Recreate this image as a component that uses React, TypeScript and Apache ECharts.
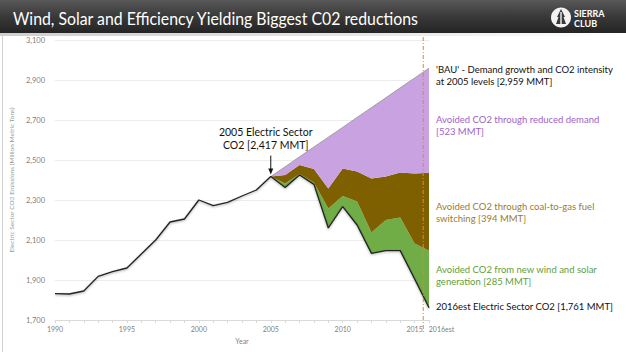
import React, { useEffect, useRef } from 'react';
import * as echarts from 'echarts';

const years = ['1990','1991','1992','1993','1994','1995','1996','1997','1998','1999','2000','2001','2002','2003','2004','2005','2006','2007','2008','2009','2010','2011','2012','2013','2014','2015','2016est'];
const emissions = [1832,1830,1845,1918,1942,1960,2030,2100,2190,2205,2300,2272,2288,2320,2350,2417,2362,2425,2378,2160,2267,2175,2033,2047,2047,1905,1761];
// 2005 .. 2016est
const bau = [2417,2466,2516,2565,2614,2663,2713,2762,2811,2861,2910,2959];
const demandBottom = [2417,2425,2475,2455,2358,2458,2442,2408,2417,2437,2433,2436];
const fuelSwitchBottom = [2417,2383,2430,2387,2258,2320,2292,2137,2200,2212,2083,2046];

const titleText = 'Wind, Solar and Efficiency Yielding Biggest C02 reductions';
const yAxisName = 'Electric Sector CO2 Emissions (Million Metric Tons)';
const notes = [
  { lines: ["'BAU' - Demand growth and CO2 intensity", 'at 2005 levels [2,959 MMT]'], color: '#111111' },
  { lines: ['Avoided CO2 through reduced demand', '[523 MMT]'], color: '#A062C8' },
  { lines: ['Avoided CO2 through coal-to-gas fuel', 'switching [394 MMT]'], color: '#9C7B2C' },
  { lines: ['Avoided CO2 from new wind and solar', 'generation [285 MMT]'], color: '#5F9E3B' },
  { lines: ['2016est Electric Sector CO2 [1,761 MMT]'], color: '#111111' },
];
const noteY = [69, 119, 206, 269, 306];
const startNote = ['2005 Electric Sector', 'CO2 [2,417 MMT]'];

const FONT = "Lato, 'Open Sans', sans-serif";

export default function App() {
  const ref = useRef<HTMLDivElement>(null);
  useEffect(() => {
    document.body.style.margin = '0';
    const chart = echarts.init(ref.current!, null, { renderer: 'svg' });
    const pad = new Array(years.length - bau.length).fill(null);
    const base = pad.concat(emissions.slice(years.length - bau.length));
    const green = pad.concat(fuelSwitchBottom.map((v, i) => v - emissions[years.length - bau.length + i]));
    const brown = pad.concat(demandBottom.map((v, i) => v - fuelSwitchBottom[i]));
    const purple = pad.concat(bau.map((v, i) => v - demandBottom[i]));

    chart.setOption({
      animation: false,
      backgroundColor: '#ffffff',
      textStyle: { fontFamily: FONT },
      grid: { left: 47, right: 197, top: 40, bottom: 38 },
      xAxis: {
        type: 'category',
        data: years,
        boundaryGap: false,
        name: 'Year',
        nameLocation: 'middle',
        nameGap: 17,
        nameTextStyle: { fontSize: 7, color: '#7f7f7f' },
        axisLine: { lineStyle: { color: '#d9d9d9' } },
        axisTick: { interval: 0, length: 3, lineStyle: { color: '#d9d9d9' } },
        axisLabel: {
          interval: 0,
          fontSize: 7,
          color: '#7f7f7f',
          margin: 5,
          formatter: (v: string) => (v === '2016est' ? '{e|2016est}' : Number(v) % 5 === 0 ? v : ''),
          rich: { e: { fontSize: 7, color: '#7f7f7f', padding: [0, 0, 0, 25] } },
        },
      },
      yAxis: {
        type: 'value',
        min: 1700,
        max: 3100,
        interval: 200,
        name: yAxisName,
        nameLocation: 'middle',
        nameGap: 32,
        nameTextStyle: { fontSize: 6.5, color: '#9a9a9a' },
        axisLine: { show: false },
        axisTick: { show: false },
        splitLine: { lineStyle: { color: '#ececec' } },
        axisLabel: {
          fontSize: 7.5,
          color: '#7f7f7f',
          margin: 10,
          formatter: (v: number) => v.toLocaleString('en-US'),
        },
      },
      series: [
        { type: 'line', stack: 'a', data: base, showSymbol: false, lineStyle: { width: 0 }, silent: true },
        { type: 'line', stack: 'a', data: green, showSymbol: false, lineStyle: { width: 0 }, areaStyle: { color: '#70AD47', opacity: 1 } },
        { type: 'line', stack: 'a', data: brown, showSymbol: false, lineStyle: { width: 0 }, areaStyle: { color: '#7F6000', opacity: 1 } },
        { type: 'line', stack: 'a', data: purple, showSymbol: false, lineStyle: { width: 1, color: '#a0a0a0' }, areaStyle: { color: '#C9A3E1', opacity: 1 } },
        {
          type: 'line', data: emissions, showSymbol: false, z: 5,
          lineStyle: { width: 1.3, color: '#222222', shadowColor: 'rgba(0,0,0,0.35)', shadowBlur: 2, shadowOffsetY: 1 },
        },
      ],
    });

    const px = (c: string, v: number) => chart.convertToPixel({ gridIndex: 0 }, [c, v]) as number[];
    const x15 = px('2015', 1700)[0];
    const x16 = px('2016est', 1700)[0];
    const xd = x15 + 0.6 * (x16 - x15);
    const [ax, ay] = px('2005', 2417);

    const graphics: any[] = [
      {
        type: 'rect', z: 50, shape: { x: 0, y: 0, width: 626, height: 33 },
        style: { fill: new echarts.graphic.LinearGradient(0, 0, 0, 1, [
          { offset: 0, color: '#585858' }, { offset: 0.5, color: '#393939' }, { offset: 1, color: '#242424' },
        ]) },
      },
      {
        type: 'rect', z: 50, shape: { x: 0, y: 33, width: 626, height: 3 },
        style: { fill: new echarts.graphic.LinearGradient(0, 0, 1, 0, [
          { offset: 0, color: '#cfcfcf' }, { offset: 0.6, color: '#e6e6e6' }, { offset: 1, color: '#ffffff' },
        ]) },
      },
      {
        type: 'text', z: 51, x: 13, y: 18, scaleX: 0.88,
        style: { text: titleText, fill: '#ffffff', fontSize: 18, fontFamily: FONT, verticalAlign: 'middle' },
      },
      { type: 'ellipse', z: 51, shape: { cx: 561, cy: 17.5, rx: 10, ry: 10 }, style: { fill: '#f2f2f2' } },
      { type: 'polygon', z: 52, shape: { points: [[561, 9], [565, 17], [563.5, 17], [566, 24], [556, 24], [558.5, 17], [557, 17]] }, style: { fill: '#3a3a3a' } },
      { type: 'rect', z: 53, shape: { x: 560.3, y: 12, width: 1.4, height: 15 }, style: { fill: '#f2f2f2' } },
      { type: 'text', z: 51, x: 574, y: 13, style: { text: 'SIERRA', fill: '#ffffff', fontSize: 9, fontWeight: 'bold', fontFamily: FONT, verticalAlign: 'middle' } },
      { type: 'text', z: 51, x: 574, y: 23, style: { text: 'CLUB', fill: '#ffffff', fontSize: 9, fontWeight: 'bold', fontFamily: FONT, verticalAlign: 'middle' } },
      { type: 'line', z: 40, shape: { x1: 2.5, y1: 36, x2: 2.5, y2: 352 }, style: { stroke: '#d0d0d0', lineWidth: 1 } },
      {
        type: 'line', z: 100, shape: { x1: xd, y1: 37, x2: xd, y2: 333 },
        style: { stroke: '#E8803A', lineWidth: 1, lineDash: [4, 2, 1, 2] },
      },
      { type: 'line', z: 100, shape: { x1: ax, y1: ay - 21, x2: ax, y2: ay - 6 }, style: { stroke: '#111', lineWidth: 1 } },
      { type: 'polygon', z: 100, shape: { points: [[ax - 2.5, ay - 8], [ax + 2.5, ay - 8], [ax, ay - 2]] }, style: { fill: '#111' } },
      {
        type: 'text', z: 100, x: ax - 5, y: ay - 38,
        style: { text: startNote.join('\n'), fill: '#111', fontSize: 10.5, lineHeight: 13.5, fontFamily: FONT, align: 'center', verticalAlign: 'middle' },
      },
    ];
    notes.forEach((n, i) => {
      graphics.push({
        type: 'text', z: 100, x: 436, y: noteY[i] - 6,
        style: { text: n.lines.join('\n'), fill: n.color, fontSize: 9.5, lineHeight: 12.5, fontFamily: FONT, verticalAlign: 'top' },
      });
    });
    chart.setOption({ graphic: graphics });

    return () => chart.dispose();
  }, []);
  return <div ref={ref} style={{ width: 626, height: 358, position: 'absolute', left: 0, top: 0 }} />;
}
